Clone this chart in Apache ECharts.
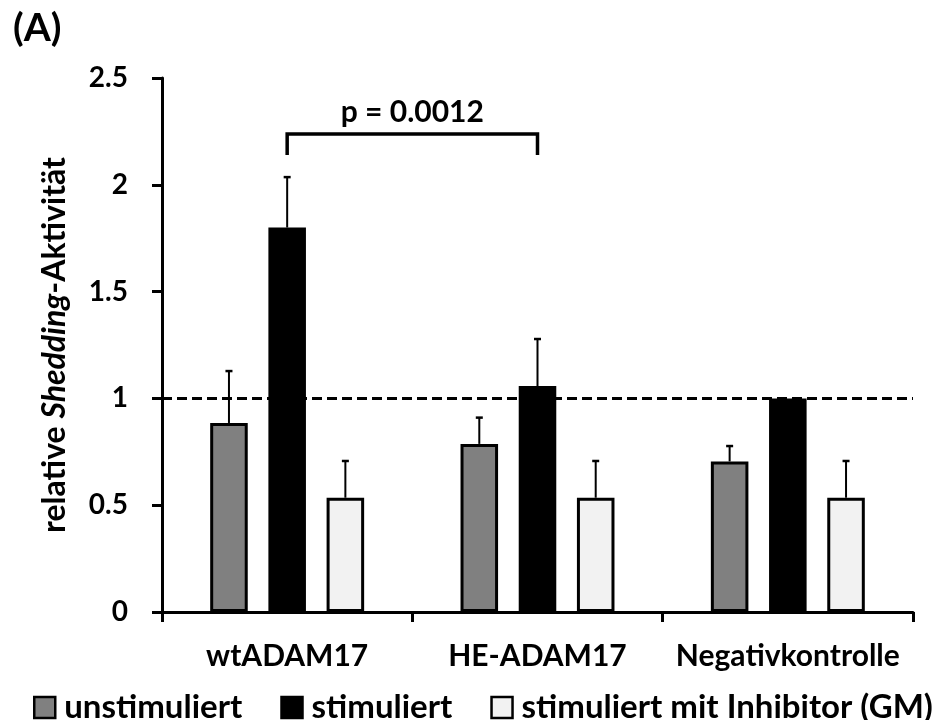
<!DOCTYPE html>
<html><head><meta charset="utf-8">
<script src="https://cdn.jsdelivr.net/npm/echarts@6/dist/echarts.min.js"></script>
<style>html,body{margin:0;padding:0;background:#fff}#c{width:947px;height:720px}</style>
</head><body><div id="c"></div>
<script>
var categories = ['wtADAM17', 'HE-ADAM17', 'Negativkontrolle'];
var seriesNames = ['unstimuliert', 'stimuliert', 'stimuliert mit Inhibitor (GM)'];
var unstim = [0.885, 0.787, 0.705];
var stim = [1.80, 1.058, 1.0];
var inhib = [0.535, 0.535, 0.535];
var unstimErr = [0.243, 0.123, 0.072];
var stimErr = [0.236, 0.22, 0];
var inhibErr = [0.172, 0.172, 0.172];
var yTicks = [0, 0.5, 1, 1.5, 2, 2.5];
var pLabel = 'p = 0.0012';
var bracket = { from: 0, to: 1, top: 2.238, bottom: 2.14 };

var FONT = 'Lato';
var fills = ['#808080', '#000000', '#f2f2f2'];
var chart = echarts.init(document.getElementById('c'), null, { renderer: 'canvas' });

function errSeries(vals, errs, idx) {
  var data = vals.map(function (v, i) { return [i, v, v + errs[i]]; });
  return {
    type: 'custom', silent: true, z: 5,
    renderItem: function (params, api) {
      var i = api.value(0);
      var bw = api.size([1, 0])[0];
      var barW = bw * 0.15;
      var off = (idx - 1) * barW * 1.55;
      var p0 = api.coord([i, api.value(1)]);
      var p1 = api.coord([i, api.value(2)]);
      var x = p0[0] + off;
      if (Math.abs(p1[1] - p0[1]) < 0.5) return null;
      return { type: 'group', children: [
        { type: 'line', shape: { x1: x, y1: p0[1], x2: x, y2: p1[1] }, style: { stroke: '#000', lineWidth: 2 } },
        { type: 'line', shape: { x1: x - 3.5, y1: p1[1], x2: x + 3.5, y2: p1[1] }, style: { stroke: '#000', lineWidth: 2.5 } }
      ] };
    },
    data: data
  };
}

var option = {
  backgroundColor: '#fff',
  animation: false,
  title: { text: '(A)', left: 8, top: 4, textStyle: { fontFamily: FONT, fontWeight: 'bold', fontSize: 39, color: '#000' } },
  grid: { left: 162, right: 34, top: 78, bottom: 108 },
  legend: {
    left: 28, top: 686, itemWidth: 21, itemHeight: 21, itemGap: 38, icon: 'rect', width: 935,
    data: seriesNames.map(function (n, k) {
      return { name: n, itemStyle: { color: fills[k], borderColor: '#000', borderWidth: 2.5 } };
    }),
    textStyle: { fontFamily: FONT, fontWeight: 'bold', fontSize: 33, color: '#000', padding: [0, 0, 0, 4] }
  },
  xAxis: {
    type: 'category', data: categories,
    axisLine: { lineStyle: { color: '#000', width: 3 } },
    axisTick: { show: true, interval: 0, length: 10, lineStyle: { color: '#000', width: 3 } },
    axisLabel: { interval: 0, margin: 29, fontFamily: FONT, fontWeight: 'bold', fontSize: 30, color: '#000' }
  },
  yAxis: {
    type: 'value', min: 0, max: 2.5, interval: 0.5,
    axisLine: { show: true, lineStyle: { color: '#000', width: 3 } },
    axisTick: { show: true, length: 10, lineStyle: { color: '#000', width: 3 } },
    splitLine: { show: false },
    axisLabel: { margin: 34, fontFamily: FONT, fontWeight: 'bold', fontSize: 28, color: '#000',
      formatter: function (v) { return yTicks.indexOf(v) >= 0 ? String(v) : ''; } },
    name: '{n|relative }{i|Shedding}{n|-Aktivität}',
    nameLocation: 'middle', nameGap: 91, nameRotate: 90,
    nameTextStyle: {
      rich: {
        n: { fontFamily: FONT, fontWeight: 'bold', fontSize: 32, color: '#000' },
        i: { fontFamily: FONT, fontWeight: 'bold', fontStyle: 'italic', fontSize: 32, color: '#000' }
      }
    }
  },
  series: [
    { name: seriesNames[0], type: 'bar', data: unstim, barWidth: '15%', barGap: '55%',
      itemStyle: { color: fills[0], borderColor: '#000', borderWidth: 3 } },
    { name: seriesNames[1], type: 'bar', data: stim, barWidth: '15%', barGap: '55%',
      itemStyle: { color: fills[1], borderColor: '#000', borderWidth: 0 },
      markLine: { silent: true, symbol: 'none', label: { show: false }, z: 10,
        lineStyle: { color: '#000', type: [10, 5], width: 3 },
        data: [{ yAxis: 1 }] } },
    { name: seriesNames[2], type: 'bar', data: inhib, barWidth: '15%', barGap: '55%',
      itemStyle: { color: fills[2], borderColor: '#000', borderWidth: 3 } },
    errSeries(unstim, unstimErr, 0),
    errSeries(stim, stimErr, 1),
    errSeries(inhib, inhibErr, 2),
    {
      type: 'custom', silent: true, z: 6,
      renderItem: function (params, api) {
        var a = api.coord([bracket.from, bracket.top]);
        var b = api.coord([bracket.to, bracket.top]);
        var bot = api.coord([bracket.from, bracket.bottom])[1];
        return { type: 'group', children: [
          { type: 'polyline', shape: { points: [[a[0], bot], [a[0], a[1]], [b[0], a[1]], [b[0], bot]] },
            style: { stroke: '#000', lineWidth: 3.5, fill: null } },
          { type: 'text', x: (a[0] + b[0]) / 2, y: a[1] - 22,
            style: { text: pLabel, fill: '#000', font: 'bold 30px ' + FONT, align: 'center', verticalAlign: 'middle' } }
        ] };
      },
      data: [[0, 0]]
    }
  ]
};
chart.setOption(option);
</script></body></html>
